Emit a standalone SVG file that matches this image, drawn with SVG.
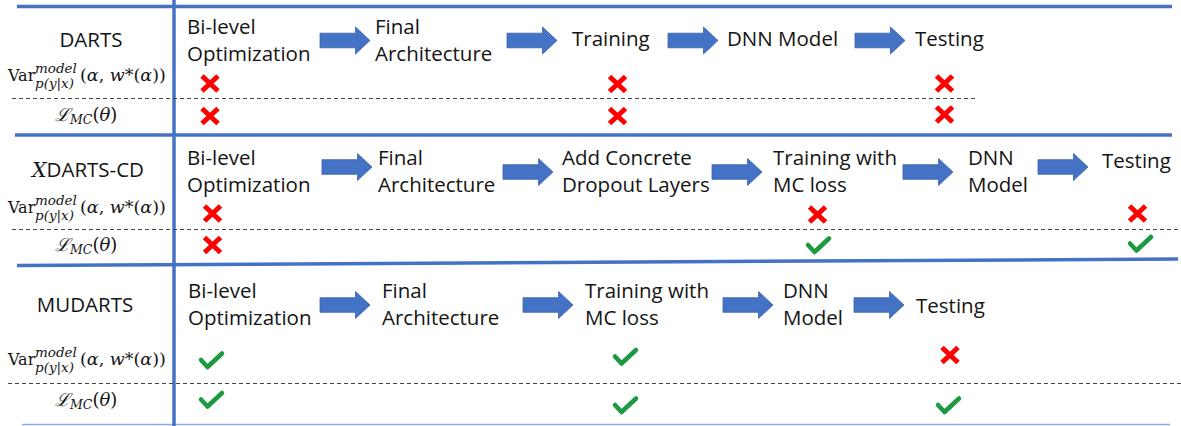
<svg xmlns="http://www.w3.org/2000/svg" xmlns:xlink="http://www.w3.org/1999/xlink" width="1181" height="426" viewBox="0 0 1181 426">
  <style>
    .t { font-family: "Open Sans", "Liberation Sans", sans-serif; font-size: 20.5px; fill: #141414; }
    .m { font-family: "DejaVu Serif", "Liberation Serif", serif; fill: #141414; }
    .mi { font-style: italic; }
    .rule { stroke: #4472C4; stroke-width: 3.5; fill: none; }
    .dash { stroke: #444; stroke-width: 1; stroke-dasharray: 4 3; fill: none; }
    .arrow { fill: #4472C4; stroke: #3a63ad; stroke-width: 0.8; }
    .cross { stroke: #FF0000; stroke-width: 5; fill: none; }
    .check { stroke: #1d9a40; stroke-width: 4.5; fill: none; stroke-linecap: round; stroke-linejoin: round; }
  </style>
  <defs>
    <path id="arw" d="M0,-7.3 H35.5 V-13.5 L50,0 L35.5,13.5 V7.3 H0 Z"/>
    <path id="xmark" d="M-8,-7.5 L8,7.5 M8,-7.5 L-8,7.5"/>
    <path id="vmark" d="M-10,-1 L-3.5,6 L11,-7.5"/>
  </defs>

  <rect width="1181" height="426" fill="#ffffff"/>

  <!-- table rules -->
  <g id="grid">
    <line class="rule" x1="17" y1="6.5" x2="1172" y2="6.5"/>
    <line class="rule" x1="15" y1="135" x2="1172" y2="135"/>
    <line class="rule" x1="17" y1="265.5" x2="1178" y2="259"/>
    <line x1="22" y1="424.5" x2="1170" y2="424.5" stroke="#8eaadb" stroke-width="1.6"/>
    <line class="rule" x1="174" y1="0" x2="174" y2="426" stroke-width="3"/>
    <line class="dash" x1="12" y1="98.5" x2="975" y2="98.5"/>
    <line class="dash" x1="12" y1="229.5" x2="1181" y2="229.5"/>
    <line class="dash" x1="8" y1="383.5" x2="1181" y2="383.5"/>
  </g>

  <!-- row labels -->
  <g id="label-darts">
    <text class="t" x="91" y="47" text-anchor="middle">DARTS</text>
  </g>
  <g id="label-xdarts-cd">
    <text class="t" x="88" y="177" text-anchor="middle"><tspan class="m mi">X</tspan>DARTS-CD</text>
  </g>
  <g id="label-mudarts">
    <text class="t" x="85" y="312" text-anchor="middle">MUDARTS</text>
  </g>

  <!-- criteria labels, one pair per row -->
  <g id="crit-darts">
    <text class="m" x="8" y="81" font-size="16">Var</text>
    <text class="m mi" x="35" y="73" font-size="13.5">model</text>
    <text class="m mi" x="35" y="88" font-size="13.5">p(y|x)</text>
    <text class="m" x="80" y="81" font-size="17.5">(<tspan class="mi">α</tspan>, <tspan class="mi">w</tspan>*(<tspan class="mi">α</tspan>))</text>
    <text class="m" x="55" y="121" font-size="18"><tspan class="mi">ℒ</tspan><tspan class="mi" font-size="12.5" dy="3">MC</tspan><tspan dy="-3">(</tspan><tspan class="mi">θ</tspan>)</text>
  </g>
  <g id="crit-xdarts-cd">
    <text class="m" x="8" y="213" font-size="16">Var</text>
    <text class="m mi" x="35" y="205" font-size="13.5">model</text>
    <text class="m mi" x="35" y="220" font-size="13.5">p(y|x)</text>
    <text class="m" x="80" y="213" font-size="17.5">(<tspan class="mi">α</tspan>, <tspan class="mi">w</tspan>*(<tspan class="mi">α</tspan>))</text>
    <text class="m" x="55" y="251" font-size="18"><tspan class="mi">ℒ</tspan><tspan class="mi" font-size="12.5" dy="3">MC</tspan><tspan dy="-3">(</tspan><tspan class="mi">θ</tspan>)</text>
  </g>
  <g id="crit-mudarts">
    <text class="m" x="8" y="365" font-size="16">Var</text>
    <text class="m mi" x="35" y="357" font-size="13.5">model</text>
    <text class="m mi" x="35" y="372" font-size="13.5">p(y|x)</text>
    <text class="m" x="80" y="365" font-size="17.5">(<tspan class="mi">α</tspan>, <tspan class="mi">w</tspan>*(<tspan class="mi">α</tspan>))</text>
    <text class="m" x="55" y="406" font-size="18"><tspan class="mi">ℒ</tspan><tspan class="mi" font-size="12.5" dy="3">MC</tspan><tspan dy="-3">(</tspan><tspan class="mi">θ</tspan>)</text>
  </g>

  <!-- DARTS pipeline -->
  <g id="d-bilevel"><text class="t" x="187" y="34">Bi-level<tspan x="187" y="61">Optimization</tspan></text></g>
  <g id="d-final"><text class="t" x="375" y="34">Final<tspan x="375" y="61">Architecture</tspan></text></g>
  <g id="d-training"><text class="t" x="572" y="46">Training</text></g>
  <g id="d-dnn"><text class="t" x="727" y="46">DNN Model</text></g>
  <g id="d-testing"><text class="t" x="915" y="46">Testing</text></g>

  <!-- XDARTS-CD pipeline -->
  <g id="x-bilevel"><text class="t" x="187" y="165">Bi-level<tspan x="187" y="192">Optimization</tspan></text></g>
  <g id="x-final"><text class="t" x="378" y="165">Final<tspan x="378" y="192">Architecture</tspan></text></g>
  <g id="x-dropout"><text class="t" x="562" y="165">Add Concrete<tspan x="562" y="192">Dropout Layers</tspan></text></g>
  <g id="x-training"><text class="t" x="773" y="165">Training with<tspan x="773" y="192">MC loss</tspan></text></g>
  <g id="x-dnn"><text class="t" x="968" y="165">DNN<tspan x="968" y="192">Model</tspan></text></g>
  <g id="x-testing"><text class="t" x="1102" y="168">Testing</text></g>

  <!-- MUDARTS pipeline -->
  <g id="m-bilevel"><text class="t" x="188" y="298">Bi-level<tspan x="188" y="325">Optimization</tspan></text></g>
  <g id="m-final"><text class="t" x="382" y="298">Final<tspan x="382" y="325">Architecture</tspan></text></g>
  <g id="m-training"><text class="t" x="585" y="298">Training with<tspan x="585" y="325">MC loss</tspan></text></g>
  <g id="m-dnn"><text class="t" x="783" y="298">DNN<tspan x="783" y="325">Model</tspan></text></g>
  <g id="m-testing"><text class="t" x="916" y="313">Testing</text></g>

  <!-- block arrows between steps -->
  <g id="connectors" class="arrow">
    <use xlink:href="#arw" href="#arw" x="320" y="40.5"/>
    <use xlink:href="#arw" href="#arw" x="507" y="40.5"/>
    <use xlink:href="#arw" href="#arw" x="668" y="40.5"/>
    <use xlink:href="#arw" href="#arw" x="855" y="40.5"/>

    <use xlink:href="#arw" href="#arw" x="322" y="167"/>
    <use xlink:href="#arw" href="#arw" x="503" y="172"/>
    <use xlink:href="#arw" href="#arw" x="712" y="172"/>
    <use xlink:href="#arw" href="#arw" x="903" y="172"/>
    <use xlink:href="#arw" href="#arw" x="1038" y="167"/>

    <use xlink:href="#arw" href="#arw" x="320" y="305"/>
    <use xlink:href="#arw" href="#arw" x="523" y="305"/>
    <use xlink:href="#arw" href="#arw" x="723" y="305"/>
    <use xlink:href="#arw" href="#arw" x="854" y="305"/>
  </g>

  <!-- pass / fail marks -->
  <g id="marks-darts" class="cross">
    <use xlink:href="#xmark" href="#xmark" x="210" y="83.5"/>
    <use xlink:href="#xmark" href="#xmark" x="210" y="116"/>
    <use xlink:href="#xmark" href="#xmark" x="617.5" y="84"/>
    <use xlink:href="#xmark" href="#xmark" x="617.5" y="116"/>
    <use xlink:href="#xmark" href="#xmark" x="944.5" y="83.5"/>
    <use xlink:href="#xmark" href="#xmark" x="944.5" y="114.5"/>
  </g>
  <g id="marks-xdarts-cd">
    <g class="cross">
      <use xlink:href="#xmark" href="#xmark" x="212.5" y="213.5"/>
      <use xlink:href="#xmark" href="#xmark" x="212.5" y="245"/>
      <use xlink:href="#xmark" href="#xmark" x="817.5" y="214.5"/>
      <use xlink:href="#xmark" href="#xmark" x="1137.5" y="213.5"/>
    </g>
    <g class="check">
      <use xlink:href="#vmark" href="#vmark" x="818" y="246"/>
      <use xlink:href="#vmark" href="#vmark" x="1140" y="244.5"/>
    </g>
  </g>
  <g id="marks-mudarts">
    <g class="check">
      <use xlink:href="#vmark" href="#vmark" x="211" y="361"/>
      <use xlink:href="#vmark" href="#vmark" x="211" y="400.5"/>
      <use xlink:href="#vmark" href="#vmark" x="625" y="357.5"/>
      <use xlink:href="#vmark" href="#vmark" x="625" y="406"/>
      <use xlink:href="#vmark" href="#vmark" x="948" y="406"/>
    </g>
    <g class="cross">
      <use xlink:href="#xmark" href="#xmark" x="950" y="355"/>
    </g>
  </g>
</svg>
